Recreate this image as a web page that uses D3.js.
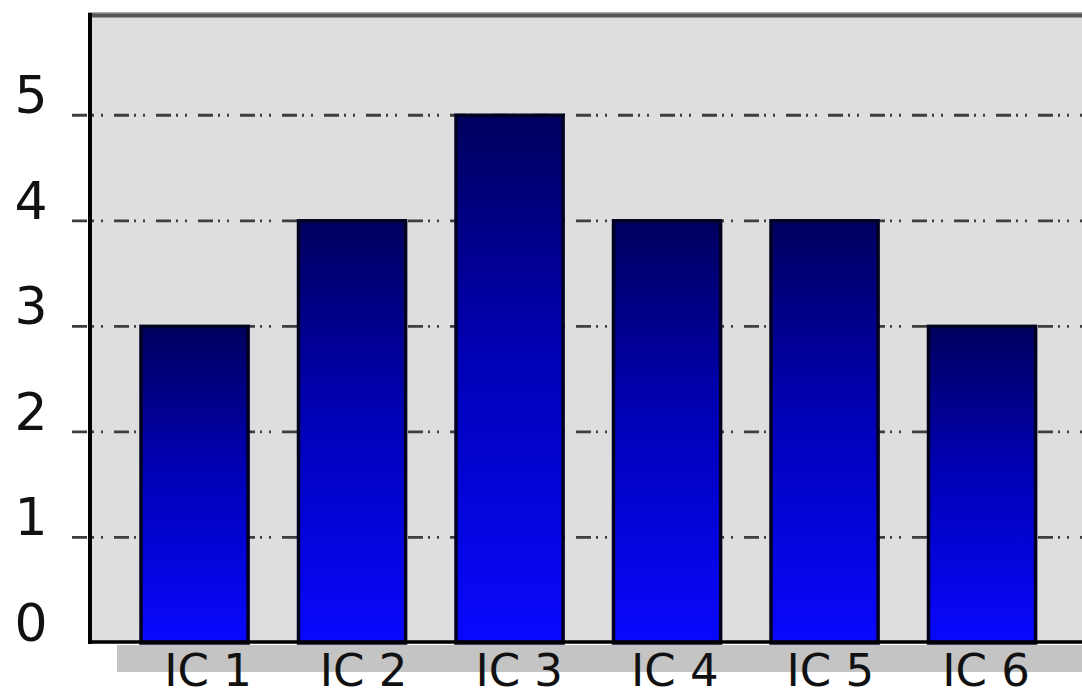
<!DOCTYPE html>
<html>
<head>
<meta charset="utf-8">
<script src="https://cdn.jsdelivr.net/npm/d3@7"></script>
<style>
  html, body { margin: 0; padding: 0; background: #ffffff; }
  svg { display: block; }
</style>
</head>
<body>
<svg id="chart" width="1082" height="698"></svg>
<script>
// ---- data ----
const categories = ["IC 1", "IC 2", "IC 3", "IC 4", "IC 5", "IC 6"];
const values = [3, 4, 5, 4, 4, 3];
const yTicks = [0, 1, 2, 3, 4, 5];
const yTickLabels = ["0", "1", "2", "3", "4", "5"];

// ---- layout ----
const svg = d3.select("#chart");
const W = 1082, H = 698;
const plotLeft = 90, plotTop = 15, plotBottom = 643, plotRight = 1090;

const y = d3.scaleLinear().domain([0, 5.95]).range([plotBottom, plotTop]);
const x = d3.scaleBand().domain(categories)
  .range([115.8, 1060.8]).paddingInner(0.32).paddingOuter(0.16);
const xLab = d3.scalePoint().domain(categories).range([208, 986]);

// gradient for bars
const defs = svg.append("defs");
const grad = defs.append("linearGradient").attr("id", "barGrad")
  .attr("x1", 0).attr("y1", 0).attr("x2", 0).attr("y2", 1);
grad.append("stop").attr("offset", "0%").attr("stop-color", "#00005e");
grad.append("stop").attr("offset", "45%").attr("stop-color", "#0000b4");
grad.append("stop").attr("offset", "100%").attr("stop-color", "#0808ff");

// shadow beneath the x axis
svg.append("rect")
  .attr("x", 117).attr("y", plotBottom + 2)
  .attr("width", W - 117 + 10).attr("height", 27)
  .attr("fill", "#c4c4c4");

// plot background
svg.append("rect")
  .attr("x", plotLeft).attr("y", plotTop)
  .attr("width", plotRight - plotLeft).attr("height", plotBottom - plotTop)
  .attr("fill", "#dedede");

// top border
svg.append("line")
  .attr("x1", plotLeft - 2).attr("x2", plotRight)
  .attr("y1", plotTop - 2).attr("y2", plotTop - 2)
  .attr("stroke", "#a8a8a8").attr("stroke-width", 2);
svg.append("line")
  .attr("x1", plotLeft - 2).attr("x2", plotRight)
  .attr("y1", plotTop + 0.5).attr("y2", plotTop + 0.5)
  .attr("stroke", "#555555").attr("stroke-width", 4);

// gridlines (dash-dot) with ticks extending left of the axis
svg.append("g").selectAll("line")
  .data(yTicks.filter(d => d > 0))
  .join("line")
  .attr("x1", 72).attr("x2", plotRight)
  .attr("y1", d => y(d)).attr("y2", d => y(d))
  .attr("stroke", "#3e3e3e").attr("stroke-width", 2.8)
  .attr("stroke-dasharray", "15,5,2,7,2,11");

// bars
svg.append("g").selectAll("rect")
  .data(values)
  .join("rect")
  .attr("x", (d, i) => x(categories[i]))
  .attr("y", d => y(d))
  .attr("width", x.bandwidth())
  .attr("height", d => y(0) - y(d))
  .attr("fill", "url(#barGrad)")
  .attr("stroke", "#000020").attr("stroke-width", 3.5);

// left axis line
svg.append("line")
  .attr("x1", plotLeft).attr("x2", plotLeft)
  .attr("y1", plotTop - 2).attr("y2", plotBottom + 1)
  .attr("stroke", "#000").attr("stroke-width", 4);

// bottom axis line
svg.append("line")
  .attr("x1", plotLeft - 2).attr("x2", plotRight)
  .attr("y1", plotBottom - 1).attr("y2", plotBottom - 1)
  .attr("stroke", "#000").attr("stroke-width", 3.5);

// y tick labels
svg.append("g").selectAll("text")
  .data(yTicks)
  .join("text")
  .attr("x", 31)
  .attr("y", d => y(d) - 2)
  .attr("text-anchor", "middle")
  .attr("font-family", "DejaVu Sans, Verdana, sans-serif")
  .attr("font-size", 52)
  .attr("fill", "#111")
  .text((d, i) => yTickLabels[i]);

// x labels
svg.append("g").selectAll("text")
  .data(categories)
  .join("text")
  .attr("x", d => xLab(d))
  .attr("y", 686)
  .attr("text-anchor", "middle")
  .attr("font-family", "DejaVu Sans, Verdana, sans-serif")
  .attr("font-size", 45)
  .attr("fill", "#111")
  .text(d => d);
</script>
</body>
</html>
